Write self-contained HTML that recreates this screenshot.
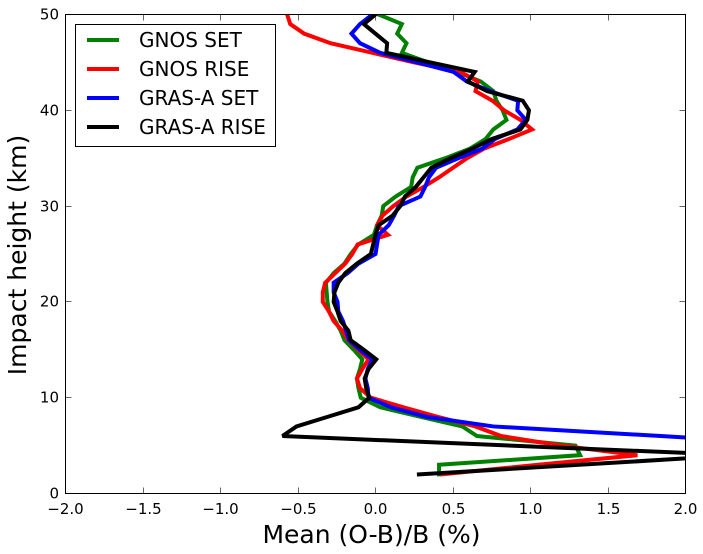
<!DOCTYPE html>
<html>
<head>
<meta charset="utf-8">
<style>
html,body{margin:0;padding:0;background:#fff;width:703px;height:554px;overflow:hidden}
svg{display:block}
text{font-family:"DejaVu Sans","Liberation Sans",sans-serif;fill:#000}
</style>
</head>
<body>
<svg id="chart" xmlns="http://www.w3.org/2000/svg" width="703" height="554" viewBox="0 0 703 554">
<defs><clipPath id="plot-clip"><rect x="65.5" y="14.5" width="620" height="479"/></clipPath></defs>
<rect x="65.5" y="14.5" width="620" height="479" fill="#fff"/>
<g id="series" clip-path="url(#plot-clip)"></g>
<rect x="65.5" y="14.5" width="620" height="479" fill="none" stroke="#000" stroke-width="1"/>
<g id="ticks"></g>
<text x="371.5" y="543" font-size="25" text-anchor="middle">Mean (O-B)/B (%)</text>
<text transform="translate(26,255) rotate(-90)" font-size="25" text-anchor="middle">Impact height (km)</text>
<g>
<rect x="75.5" y="24.5" width="200" height="122" fill="#fff" stroke="#000" stroke-width="1"/>
<line x1="87" x2="119" y1="40" y2="40" stroke="#008000" stroke-width="4"/>
<text x="139" y="47" font-size="20">GNOS SET</text>
<line x1="87" x2="119" y1="69" y2="69" stroke="#ff0000" stroke-width="4"/>
<text x="139" y="76" font-size="20">GNOS RISE</text>
<line x1="87" x2="119" y1="98" y2="98" stroke="#0000ff" stroke-width="4"/>
<text x="139" y="105" font-size="20">GRAS-A SET</text>
<line x1="87" x2="119" y1="127" y2="127" stroke="#000000" stroke-width="4"/>
<text x="139" y="134" font-size="20">GRAS-A RISE</text>
</g>
</svg>
<script>
const heights = [50,49,48,47,46,45,44,43,42,41,40,39,38,37,36,35,34,33,32,31,30,29,28,27,26,25,24,23,22,21,20,19,18,17,16,15,14,13,12,11,10,9,8,7,6,5,4,3,2];
const gnosSet = [0.02,0.17,0.14,0.2,0.17,0.34,0.53,0.68,0.76,0.78,0.82,0.845,0.76,0.71,0.61,0.45,0.27,0.24,0.23,0.13,0.05,0.04,0.01,-0.01,-0.11,-0.16,-0.2,-0.27,-0.32,-0.315,-0.31,-0.3,-0.26,-0.225,-0.2,-0.14,-0.085,-0.1,-0.12,-0.11,-0.095,0.03,0.29,0.56,0.655,1.29,1.32,0.41,0.41];
const gnosRise = [-0.57,-0.55,-0.46,-0.29,-0.02,0.25,0.55,0.66,0.645,0.755,0.83,0.935,1.01,0.86,0.70,0.59,0.5,0.41,0.31,0.2,0.115,0.045,0.01,0.08,-0.115,-0.15,-0.195,-0.26,-0.325,-0.34,-0.34,-0.3,-0.27,-0.215,-0.175,-0.11,-0.045,-0.085,-0.12,-0.1,-0.03,0.18,0.4,0.645,0.81,1.2,1.69,1.05,0.43];
const grasSet = [-0.02,-0.1,-0.155,-0.1,0.03,0.27,0.505,0.59,0.74,0.92,0.915,0.97,0.915,0.77,0.69,0.535,0.39,0.345,0.32,0.29,0.15,0.12,0.085,0.02,0.01,0.0,-0.11,-0.18,-0.27,-0.27,-0.245,-0.24,-0.21,-0.19,-0.17,-0.1,-0.02,-0.05,-0.065,-0.05,-0.045,0.1,0.33,0.76,1.84,2.9,null,null,null];
const grasRise = [0.0,-0.075,0.0,0.075,0.07,0.355,0.64,0.595,0.72,0.95,0.99,0.98,0.935,0.75,0.625,0.485,0.36,0.31,0.26,0.19,0.16,0.11,0.02,0.0,-0.015,-0.03,-0.12,-0.195,-0.24,-0.265,-0.27,-0.245,-0.225,-0.175,-0.16,-0.075,0.005,-0.045,-0.07,-0.06,-0.04,-0.11,-0.31,-0.51,-0.6,null,2.35,null,0.28];
const xTickValues = [-2,-1.5,-1,-0.5,0,0.5,1,1.5,2];
const yTickValues = [0,10,20,30,40,50];

const xScale = v => 65.5 + (v + 2) / 4 * 620;
const yScale = v => 493.5 - v / 50 * 479;

const svgNS = 'http://www.w3.org/2000/svg';
const seriesGroup = document.getElementById('series');
const tickGroup = document.getElementById('ticks');

function drawSeries(values, color) {
  const pts = [];
  values.forEach((v, i) => {
    if (v !== null) pts.push(xScale(v).toFixed(2) + ',' + yScale(heights[i]).toFixed(2));
  });
  const el = document.createElementNS(svgNS, 'polyline');
  el.setAttribute('points', pts.join(' '));
  el.setAttribute('fill', 'none');
  el.setAttribute('stroke', color);
  el.setAttribute('stroke-width', '4');
  el.setAttribute('stroke-linejoin', 'miter');
  el.setAttribute('stroke-miterlimit', '3');
  el.setAttribute('stroke-linecap', 'square');
  seriesGroup.appendChild(el);
  return el;
}

const lineGnosSet = drawSeries(gnosSet, '#008000');


const lineGnosRise = drawSeries(gnosRise, '#ff0000');


const lineGrasSet = drawSeries(grasSet, '#0000ff');


const lineGrasRise = drawSeries(grasRise, '#000000');



function tickLine(x1, y1, x2, y2) {
  const l = document.createElementNS(svgNS, 'line');
  l.setAttribute('x1', x1);
  l.setAttribute('y1', y1);
  l.setAttribute('x2', x2);
  l.setAttribute('y2', y2);
  l.setAttribute('stroke', '#000');
  l.setAttribute('stroke-width', '0.6');
  tickGroup.appendChild(l);
  return l;
}

xTickValues.forEach(v => {
  const x = Math.round(xScale(v) - 0.5) + 0.5;
  const bottom = tickLine(x, 493.5, x, 487.5);
  
  
  const top = tickLine(x, 14.5, x, 20.5);
  
  
  const t = document.createElementNS(svgNS, 'text');
  
  
  t.setAttribute('x', x);
  t.setAttribute('y', 514);
  t.setAttribute('font-size', '15');
  t.setAttribute('text-anchor', 'middle');
  t.textContent = v.toFixed(1).replace('-', '\u2212');
  tickGroup.appendChild(t);
});

yTickValues.forEach(v => {
  const y = Math.round(yScale(v) - 0.5) + 0.5;
  const left = tickLine(65.5, y, 71.5, y);
  
  
  const right = tickLine(685.5, y, 679.5, y);
  
  
  const t = document.createElementNS(svgNS, 'text');
  
  
  t.setAttribute('x', 59);
  t.setAttribute('y', y + 5);
  t.setAttribute('font-size', '15');
  t.setAttribute('text-anchor', 'end');
  t.textContent = String(v);
  tickGroup.appendChild(t);
});
</script>
</body>
</html>
